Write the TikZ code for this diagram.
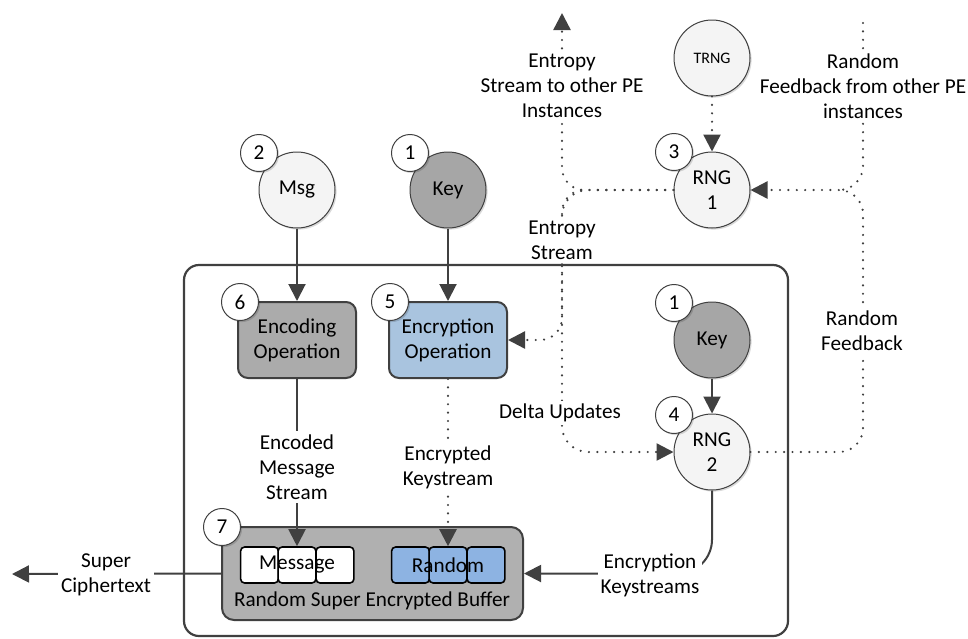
\documentclass[tikz,border=0pt]{standalone}
\usepackage{fontspec}
\setmainfont{Carlito}
\usetikzlibrary{arrows.meta,shadows,calc}
\definecolor{linec}{HTML}{404040}
\definecolor{circfill}{HTML}{F4F4F4}
\definecolor{keyfill}{HTML}{A6A6A6}
\definecolor{encfill}{HTML}{ABABAB}
\definecolor{bluebox}{HTML}{A9C4DF}
\definecolor{bluecell}{HTML}{8DB3E2}
\definecolor{buffill}{HTML}{B0B0B0}
\begin{document}
\begin{tikzpicture}[x=0.5pt,y=-0.5pt,
  font=\fontsize{10.6}{12.6}\selectfont,
  shad/.style={drop shadow={shadow xshift=0.8pt,shadow yshift=-0.8pt,opacity=0.15,fill=black}},
  circ/.style={circle, draw=linec, line width=0.5pt, fill=circfill, minimum size=38pt, inner sep=0pt, align=center, shad},
  keycirc/.style={circ, fill=keyfill},
  badge/.style={circle, draw=linec, line width=0.5pt, fill=white, minimum size=18.5pt, inner sep=0pt, shad},
  opbox/.style={rectangle, rounded corners=5pt, draw=linec, line width=1pt, minimum width=59pt, minimum height=38pt, align=center, inner sep=0pt},
  cell/.style={rectangle, rounded corners=2pt, draw=black, line width=0.8pt, minimum width=18.9pt, minimum height=18pt, inner sep=0pt},
  lbl/.style={fill=white, align=center, inner sep=1.5pt},
  solidarrow/.style={draw=linec, line width=1pt, -{Triangle[length=8.5pt,width=8.5pt]}},
  dotline/.style={draw=linec, line width=1.2pt, line cap=round, dash pattern=on 0pt off 4.2pt},
  dotarrow/.style={dotline, -{Triangle[length=8.5pt,width=8.5pt]}},
]
\useasboundingbox (0,0) rectangle (968,638);

% main container
\node[draw=linec, line width=1.1pt, rounded corners=7.5pt, minimum width=302pt, minimum height=185.5pt, inner sep=0pt] (main) at (486,450.5) {};

% circles
\node[circ] (msg) at (297,190) {Msg};
\node[keycirc] (key) at (448,190) {Key};
\node[circ, font=\fontsize{8}{9}\selectfont] (trng) at (712,58) {TRNG};
\node[circ] (rng1) at (712,190) {RNG\\1};
\node[keycirc] (key2) at (712,340) {Key};
\node[circ] (rng2) at (712,452) {RNG\\2};

% operation boxes
\node[opbox, fill=encfill] (encod) at (297,340) {Encoding\\Operation};
\node[opbox, fill=bluebox] (encry) at (448,340) {Encryption\\Operation};

% buffer
\node[rectangle, rounded corners=6pt, draw=linec, line width=1pt, fill=buffill, minimum width=150.5pt, minimum height=46.5pt, inner sep=0pt] (buf) at (372.5,573.5) {};
\node[cell, fill=white] (m1) at (259.5,565) {};
\node[cell, fill=white] (m2) at (297,565) {};
\node[cell, fill=white] (m3) at (335,565) {};
\node[cell, fill=bluecell] (r1) at (410.5,565) {};
\node[cell, fill=bluecell] (r2) at (448,565) {};
\node[cell, fill=bluecell] (r3) at (486,565) {};
\node (mtxt) at (297,565) {Message};
\node (rtxt) at (448,565) {Random};
\node (buftxt) at (372,601) {Random Super Encrypted Buffer};

% badges
\node[badge] (b2) at (259,153) {2};
\node[badge] (b1) at (410,153) {1};
\node[badge] (b3) at (674,152) {3};
\node[badge] (b1b) at (674,303) {1};
\node[badge] (b4) at (674,415) {4};
\node[badge] (b6) at (240,302) {6};
\node[badge] (b5) at (390,302) {5};
\node[badge] (b7) at (222,527) {7};

% coordinates for free ends
\coordinate (entTop) at (562,13);
\coordinate (entX) at (562,265);
\coordinate (fbX) at (863,265);
\coordinate (fbTop) at (863,23);
\coordinate (fbJ) at (839,190);
\coordinate (sc) at (12,574);

% solid connectors
\draw[solidarrow] (msg) -- (encod);
\draw[solidarrow] (key) -- (encry);
\draw[solidarrow] (key2) -- (rng2);
\draw[solidarrow] (encod) -- (m2.north);
\draw[solidarrow] (buf.west) -- (sc);
\draw[solidarrow, rounded corners=17pt] (rng2.south) |- (buf.east);

% dotted connectors
\draw[dotarrow] (trng) -- (rng1);
\draw[dotarrow] (encry) -- (r2.north);
\draw[dotarrow, rounded corners=11pt] (rng1.west) -| (entTop);
\draw[dotarrow, rounded corners=11pt] (rng1.west) -| (entX |- encry.east) -- (encry.east);
\draw[dotarrow, rounded corners=13pt] (rng1.west) -| (entX |- rng2.west) -- (rng2.west);
\draw[dotarrow, rounded corners=12pt] (rng2.east) -| (fbX |- rng1.east) -- (rng1.east);
\draw[dotline, rounded corners=12pt] (fbTop) |- (fbJ);

% labels
\node[lbl] at (562,86) {Entropy\\Stream to other PE\\Instances};
\node[lbl] at (863,86) {Random\\Feedback from other PE\\instances};
\node[lbl] at (562,240) {Entropy\\Stream};
\node[lbl] at (862,331) {Random\\Feedback};
\node[lbl] at (560,413) {Delta Updates};
\node[lbl] at (297,467) {Encoded\\Message\\Stream};
\node[lbl] at (448,467) {Encrypted\\Keystream};
\node[lbl] at (650,575) {Encryption\\Keystreams};
\node[lbl] at (106,575) {Super\\Ciphertext};
\end{tikzpicture}
\end{document}
